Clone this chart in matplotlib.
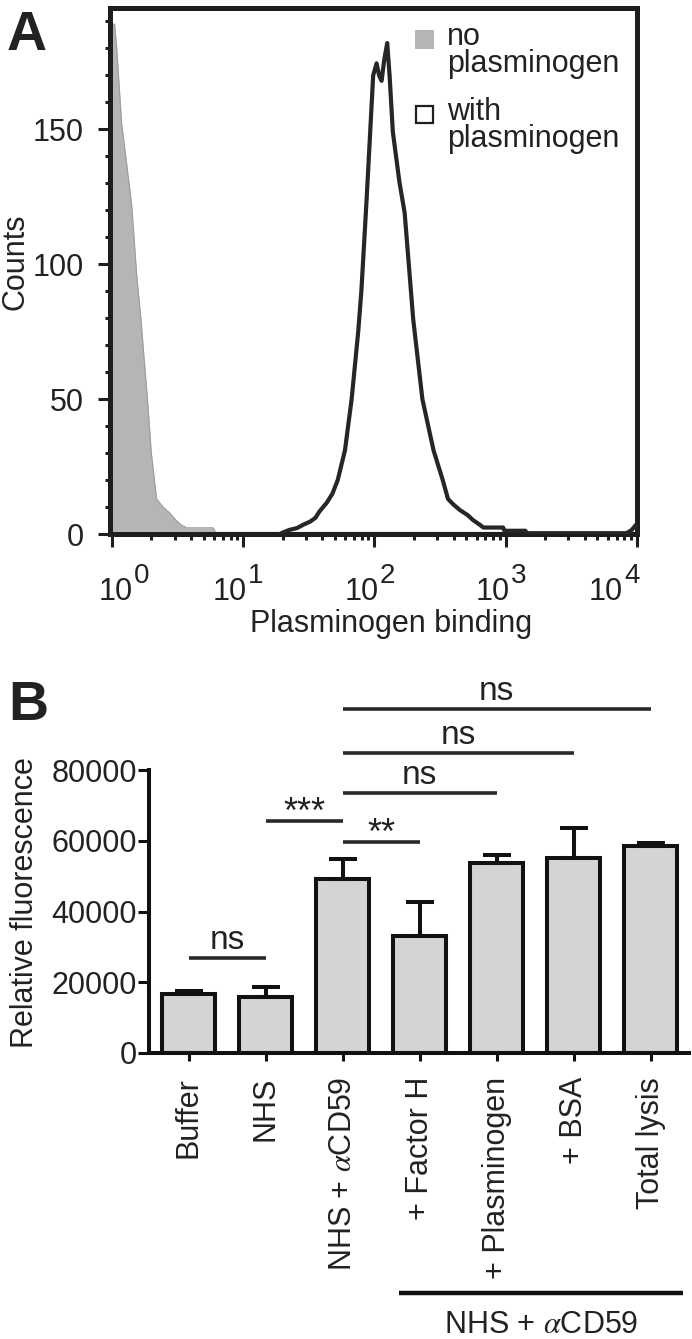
import numpy as np
import matplotlib
matplotlib.use("Agg")
import matplotlib.pyplot as plt
from matplotlib.patches import Rectangle
from matplotlib.ticker import FixedLocator, NullFormatter
from matplotlib.transforms import blended_transform_factory

plt.rcParams['font.family'] = ['Liberation Sans', 'DejaVu Sans']
plt.rcParams['mathtext.fontset'] = 'stix'

# ---------------- data ----------------
# Panel A: flow cytometry histograms (log10 of fluorescence, counts)
no_plg_log = [-0.015, 0.0, 0.02, 0.036, 0.074, 0.11, 0.15, 0.19, 0.22, 0.27, 0.30,
              0.34, 0.39, 0.44, 0.49, 0.53, 0.57, 0.77, 0.79, 1.5, 2.5, 3.2, 3.25]
no_plg_counts = [185, 189, 189, 180, 152, 138, 122, 95, 80, 50, 30,
                 13, 10, 7.8, 5, 3.3, 2.3, 2.3, 0.6, 0.6, 0.6, 0.6, 0]

with_plg_log = [1.28, 1.30, 1.35, 1.41, 1.46, 1.51, 1.55, 1.58, 1.635, 1.68, 1.72,
                1.775, 1.826, 1.876, 1.90, 1.94, 1.99, 2.016, 2.035, 2.054, 2.075,
                2.097, 2.115, 2.14, 2.19, 2.23, 2.295, 2.365, 2.45, 2.52, 2.56,
                2.60, 2.65, 2.71, 2.75, 2.80, 2.83, 2.98, 2.99, 3.15, 3.16, 3.92,
                3.96, 3.99, 4.0]
with_plg_counts = [0, 0.5, 1.5, 2.2, 3.5, 4.6, 6, 8.3, 11.5, 15, 20,
                   31, 50, 75, 90, 124, 170, 174.5, 170, 168, 176,
                   182, 170, 149, 130.5, 119, 79.6, 50, 31, 20, 13,
                   11, 8.9, 7, 5.2, 3.5, 2.4, 2.4, 1.2, 1.2, 0.3, 0.3,
                   1.5, 3.3, 3.3]

decades = [0, 1, 2, 3, 4]
count_ticks = [0, 50, 100, 150]

# Panel B: relative fluorescence
groups = ["Buffer", "NHS", r"NHS + $\alpha$CD59", "+ Factor H", "+ Plasminogen", "+ BSA", "Total lysis"]
means = [16600, 15700, 49100, 33100, 53600, 55200, 58500]
err_up = [900, 2900, 5700, 9700, 2400, 8300, 800]
fluor_ticks = [0, 20000, 40000, 60000, 80000]

sig_pairs = [(0, 1), (1, 2), (2, 3), (2, 4), (2, 5), (2, 6)]
sig_heights = [26800, 65700, 59700, 73400, 84800, 97200]
sig_labels = ["ns", "***", "**", "ns", "ns", "ns"]

# ---------------- figure ----------------
W, H = 692, 1339
fig = plt.figure(figsize=(W / 100, H / 100), dpi=100)
TXT = '#222222'
DARK = '#1e1e1e'


def fx(px):
    return px / W


def fy(py):
    return 1 - py / H


# ---------- Panel A ----------
axA = fig.add_axes([fx(110), fy(534), (637 - 110) / W, (534 - 8) / H])
no_x = 10 ** np.array(no_plg_log)
with_x = 10 ** np.array(with_plg_log)
axA.fill_between(no_x, no_plg_counts, 0, color='#b5b5b5', lw=0, zorder=1)
axA.plot(no_x, no_plg_counts, color='#9c9c9c', lw=0.8, zorder=2)
axA.plot(with_x, with_plg_counts, color='#262626', lw=3.0, zorder=3)

axA.set_xscale('log')
axA.set_xlim(10 ** -0.015, 10 ** 4.0)
axA.set_ylim(0, 195)
for sp in axA.spines.values():
    sp.set_linewidth(3.6)
    sp.set_color(DARK)

axA.xaxis.set_major_locator(FixedLocator([10.0 ** d for d in decades]))
axA.xaxis.set_major_formatter(NullFormatter())
axA.xaxis.set_minor_locator(FixedLocator([m * 10.0 ** d for d in decades[:-1] for m in range(2, 10)]))
axA.xaxis.set_minor_formatter(NullFormatter())
axA.tick_params(axis='x', which='major', direction='out', length=9.5, width=2.2, color=DARK)
axA.tick_params(axis='x', which='minor', direction='out', length=4.5, width=2.2, color=DARK)

axA.set_yticks(count_ticks)
axA.set_yticks(np.arange(0, 200, 10), minor=True)
axA.tick_params(axis='y', which='major', direction='out', length=8.6, width=2.2,
                color=DARK, labelsize=22, labelcolor=TXT, pad=10.5)
axA.tick_params(axis='y', which='minor', direction='out', length=3.8, width=2.2, color=DARK)

shifts = {0: 17, 4: -18}
for d in decades:
    s = shifts.get(d, 0)
    axA.annotate('10', xy=(10.0 ** d, 0), xycoords=('data', 'axes fraction'),
                 xytext=(4 + s, -66), textcoords='offset pixels', ha='right',
                 va='baseline', fontsize=22, color=TXT, annotation_clip=False)
    axA.annotate(str(d), xy=(10.0 ** d, 0), xycoords=('data', 'axes fraction'),
                 xytext=(5 + s, -49), textcoords='offset pixels', ha='left',
                 va='baseline', fontsize=20, color=TXT, annotation_clip=False)

fig.text(fx(391.5), fy(632), 'Plasminogen binding', ha='center', va='baseline',
         fontsize=22, color=TXT)
fig.text(fx(16), fy(262), 'Counts', rotation=90, ha='center', va='center',
         fontsize=22, color=TXT)
fig.text(fx(7), fy(50), 'A', fontsize=40, fontweight='bold', ha='left',
         va='baseline', color=TXT)

# legend
fig.add_artist(Rectangle((fx(415), fy(49)), 19 / W, 19 / H, transform=fig.transFigure,
                         facecolor='#b5b5b5', edgecolor='none'))
fig.add_artist(Rectangle((fx(416), fy(123)), 17 / W, 17 / H, transform=fig.transFigure,
                         facecolor='white', edgecolor=DARK, linewidth=1.6))
for txt, yb in [('no\nplasminogen', 72), ('with\nplasminogen', 147)]:
    fig.text(fx(447), fy(yb), txt, ha='left', va='baseline', fontsize=22,
             color=TXT, linespacing=0.87)

# ---------- Panel B ----------
axB = fig.add_axes([fx(148.5), fy(1053), (689 - 148.5) / W, (1053 - 770) / H])
xpos = np.arange(len(groups))
axB.bar(xpos, means, width=0.68, color='#d4d4d4', edgecolor='#111111',
        linewidth=2.9, zorder=2)
axB.errorbar(xpos, means, yerr=[np.zeros(len(means)), err_up], fmt='none',
             ecolor='#111111', elinewidth=2.9, capsize=10.4, capthick=2.9, zorder=3)
axB.set_xlim(-0.52, 6.5)
axB.set_ylim(0, 80000)
axB.spines[['top', 'right']].set_visible(False)
for side in ['left', 'bottom']:
    axB.spines[side].set_linewidth(2.9)
    axB.spines[side].set_color('#111111')
axB.set_yticks(fluor_ticks, [str(v) for v in fluor_ticks])
axB.tick_params(axis='y', length=8, width=2.2, labelsize=22, labelcolor=TXT, pad=0.5,
                color='#111111')
axB.set_xticks(xpos, groups, rotation=90)
axB.tick_params(axis='x', length=5.8, width=2.2, labelsize=22, labelcolor=TXT, pad=11.5,
                color='#111111')

for (i, j), h, lab in zip(sig_pairs, sig_heights, sig_labels):
    axB.plot([i, j], [h, h], color='#2a2a2a', lw=2.6, clip_on=False,
             solid_capstyle='butt', zorder=4)
    if lab == 'ns':
        axB.annotate(lab, xy=((i + j) / 2, h), xytext=(0, 9), textcoords='offset pixels',
                     ha='center', va='baseline', fontsize=24, color=TXT,
                     annotation_clip=False)
    else:
        axB.annotate(lab, xy=((i + j) / 2, h), xytext=(0, -2), textcoords='offset pixels',
                     ha='center', va='baseline', fontsize=26, color=TXT,
                     annotation_clip=False)

trB = blended_transform_factory(axB.transData, axB.transAxes)
yb_line = -(1293 - 1053) / (1053 - 770)
axB.plot([2.733, 6.42], [yb_line, yb_line], transform=trB, clip_on=False,
         color='#111111', lw=3.2, solid_capstyle='butt')
axB.text(4.577, -(1333 - 1053) / (1053 - 770), r'NHS + $\alpha$CD59', transform=trB,
         ha='center', va='baseline', fontsize=22, color=TXT, clip_on=False)

fig.text(fx(25), fy(903), 'Relative fluorescence', rotation=90, ha='center',
         va='center', fontsize=22, color=TXT)
fig.text(fx(8), fy(720), 'B', fontsize=40, fontweight='bold', ha='left',
         va='baseline', color=TXT)

fig.savefig('out.png', dpi=100)
